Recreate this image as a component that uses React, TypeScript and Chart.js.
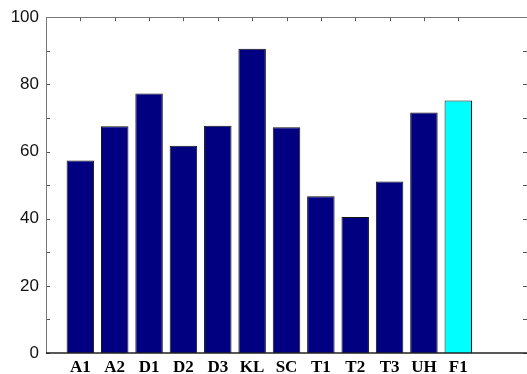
import React, { useEffect, useRef } from 'react';
import { Chart, registerables } from 'chart.js';

Chart.register(...registerables);

const categories = ['A1', 'A2', 'D1', 'D2', 'D3', 'KL', 'SC', 'T1', 'T2', 'T3', 'UH', 'F1'];
const values = [57.3, 67.5, 77.3, 61.7, 67.7, 90.6, 67.2, 46.7, 40.5, 51.1, 71.6, 75.2];
const highlighted = ['F1'];
const yMin = 0;
const yMax = 100;
const yLabelStep = 20;
const yMinorStep = 10;
const xMin = 0;
const xMax = 14;

const NAVY = '#000080';
const CYAN = '#00ffff';

const boxPlugin = {
  id: 'matlabBox',
  afterDatasetsDraw(chart: any) {
    const { ctx, chartArea } = chart;
    const { left, right, top, bottom } = chartArea;
    const xs = chart.scales.x;
    const ys = chart.scales.y;
    ctx.save();
    ctx.strokeStyle = '#555';
    ctx.lineWidth = 1;
    ctx.beginPath();
    for (let v = yMin; v <= yMax; v += yMinorStep) {
      const y = Math.round(ys.getPixelForValue(v)) + 0.5;
      ctx.moveTo(left, y);
      ctx.lineTo(left + 4, y);
      ctx.moveTo(right, y);
      ctx.lineTo(right - 4, y);
    }
    categories.forEach((_, i) => {
      const x = Math.round(xs.getPixelForValue(i + 1)) + 0.5;
      ctx.moveTo(x, top);
      ctx.lineTo(x, top + 4);
    });
    ctx.stroke();
    ctx.strokeStyle = '#777';
    ctx.beginPath();
    ctx.moveTo(Math.round(left) + 0.5, bottom);
    ctx.lineTo(Math.round(left) + 0.5, Math.round(top) + 0.5);
    ctx.lineTo(right, Math.round(top) + 0.5);
    ctx.stroke();
    ctx.strokeStyle = '#222';
    ctx.lineWidth = 1.5;
    ctx.beginPath();
    ctx.moveTo(left, Math.round(bottom));
    ctx.lineTo(right, Math.round(bottom));
    ctx.stroke();
    ctx.restore();
  },
};

export default function App() {
  const ref = useRef<HTMLCanvasElement | null>(null);

  useEffect(() => {
    if (!ref.current) return;
    const chart = new Chart(ref.current, {
      type: 'bar',
      data: {
        datasets: [
          {
            data: categories.map((c, i) => ({ x: i + 1, y: values[i] })),
            backgroundColor: categories.map((c) => (highlighted.includes(c) ? CYAN : NAVY)),
            borderColor: '#111',
            borderWidth: 1,
            barPercentage: 0.8,
            categoryPercentage: 1,
          },
        ],
      },
      options: {
        animation: false,
        responsive: false,
        maintainAspectRatio: false,
        layout: { padding: { top: 15, right: 0, bottom: 0, left: 0 } },
        plugins: { legend: { display: false }, tooltip: { enabled: false } },
        scales: {
          x: {
            type: 'linear',
            offset: false,
            min: xMin,
            max: xMax,
            grid: { display: false, drawTicks: false, offset: false },
            border: { display: false },
            afterFit: (s: any) => {
              s.height = 21;
              s.paddingLeft = 0;
              s.paddingRight = 0;
            },
            ticks: {
              stepSize: 1,
              autoSkip: false,
              maxRotation: 0,
              padding: 4,
              color: '#000',
              font: { family: '"Liberation Serif", "Times New Roman", serif', size: 17, weight: 'bold' },
              callback: (v: any) => categories[Number(v) - 1] ?? '',
            },
          },
          y: {
            min: yMin,
            max: yMax,
            grid: { display: false, drawTicks: false },
            border: { display: false },
            afterFit: (s: any) => {
              s.width = 46;
            },
            ticks: {
              stepSize: yLabelStep,
              padding: 7,
              color: '#111',
              font: { family: '"Liberation Sans", Arial, sans-serif', size: 17 },
            },
          },
        },
      },
      plugins: [boxPlugin],
    });
    return () => chart.destroy();
  }, []);

  return (
    <div style={{ position: 'fixed', left: 0, top: 0, width: 527, height: 374, background: '#fff' }}>
      <canvas ref={ref} width={527} height={374} style={{ display: 'block' }} />
    </div>
  );
}
